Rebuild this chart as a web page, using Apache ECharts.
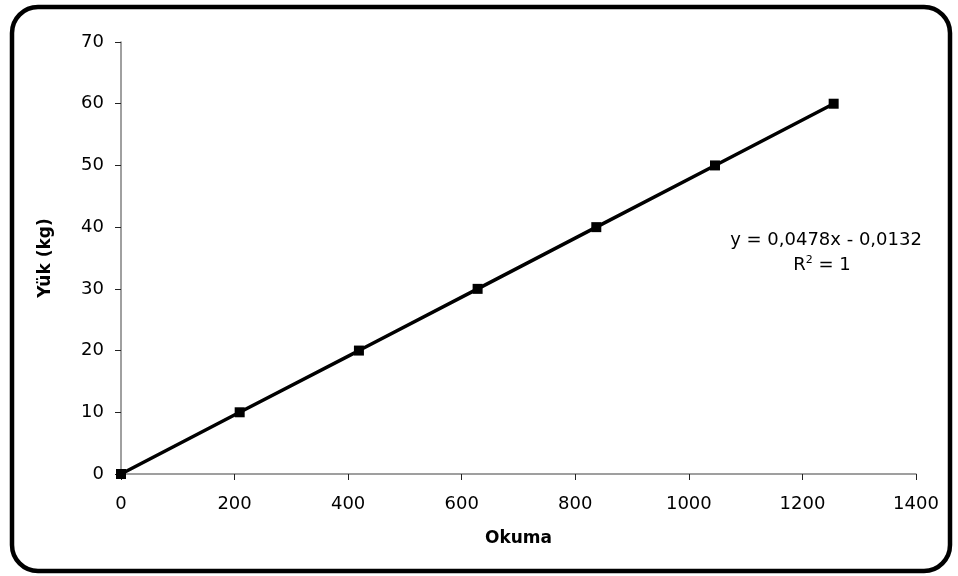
<!DOCTYPE html>
<html>
<head>
<meta charset="utf-8">
<script src="https://cdn.jsdelivr.net/npm/echarts@6/dist/echarts.min.js"></script>
<style>html,body{margin:0;padding:0;background:#fff}#c{width:958px;height:576px}</style>
</head>
<body>
<div id="c"></div>
<script>
var okuma = [0, 209, 419, 628, 837, 1046, 1255];
var yuk = [0, 10, 20, 30, 40, 50, 60];
var xTicks = [0, 200, 400, 600, 800, 1000, 1200, 1400];
var yTicks = [0, 10, 20, 30, 40, 50, 60, 70];
var eqText = 'y = 0,0478x - 0,0132';

var chart = echarts.init(document.getElementById('c'));
var font = '"DejaVu Sans", sans-serif';
var fs = 18;
chart.setOption({
  animation: false,
  backgroundColor: '#fff',
  grid: {left: 121, right: 42, top: 42, bottom: 102},
  xAxis: {
    type: 'value', min: xTicks[0], max: xTicks[xTicks.length - 1], interval: xTicks[1] - xTicks[0],
    name: 'Okuma', nameLocation: 'middle', nameGap: 56,
    nameTextStyle: {fontFamily: font, fontSize: 17, fontWeight: 'bold', color: '#000'},
    axisLine: {show: true, lineStyle: {color: '#808080', width: 1.5}},
    axisTick: {show: true, length: 6, lineStyle: {color: '#222', width: 1}},
    axisLabel: {margin: 21, fontFamily: font, fontSize: fs, color: '#000', formatter: function (v) { return String(v); }},
    splitLine: {show: false}
  },
  yAxis: {
    type: 'value', min: yTicks[0], max: yTicks[yTicks.length - 1], interval: yTicks[1] - yTicks[0],
    name: 'Yük (kg)', nameLocation: 'middle', nameGap: 67, nameRotate: 90,
    nameTextStyle: {fontFamily: font, fontSize: 17, fontWeight: 'bold', color: '#000'},
    axisLine: {show: true, lineStyle: {color: '#808080', width: 1.5}},
    axisTick: {show: true, length: 6, lineStyle: {color: '#222', width: 1}},
    axisLabel: {margin: 17, fontFamily: font, fontSize: fs, color: '#000', formatter: function (v) { return String(v); }},
    splitLine: {show: false}
  },
  series: [{
    type: 'line',
    data: okuma.map(function (x, i) { return [x, yuk[i]]; }),
    symbol: 'rect', symbolSize: 10,
    itemStyle: {color: '#000'},
    lineStyle: {color: '#000', width: 3.5}
  }],
  graphic: [
    {type: 'rect', shape: {x: 12, y: 7, width: 938, height: 564, r: 26},
     style: {fill: 'none', stroke: '#000', lineWidth: 4.5}, z: 100, silent: true},
    {type: 'text', x: 826, y: 240, style: {text: eqText, font: fs + 'px ' + font, fill: '#000', align: 'center', verticalAlign: 'middle'}},
    {type: 'text', x: 822, y: 265, style: {
      text: '{a|R}{s|2}{a| = 1}', align: 'center', verticalAlign: 'middle',
      rich: {a: {fontFamily: font, fontSize: fs, color: '#000'}, s: {fontFamily: font, fontSize: 11, color: '#000', verticalAlign: 'top', padding: [0, 0, 9, 0]}}
    }}
  ]
});
</script>
</body>
</html>
